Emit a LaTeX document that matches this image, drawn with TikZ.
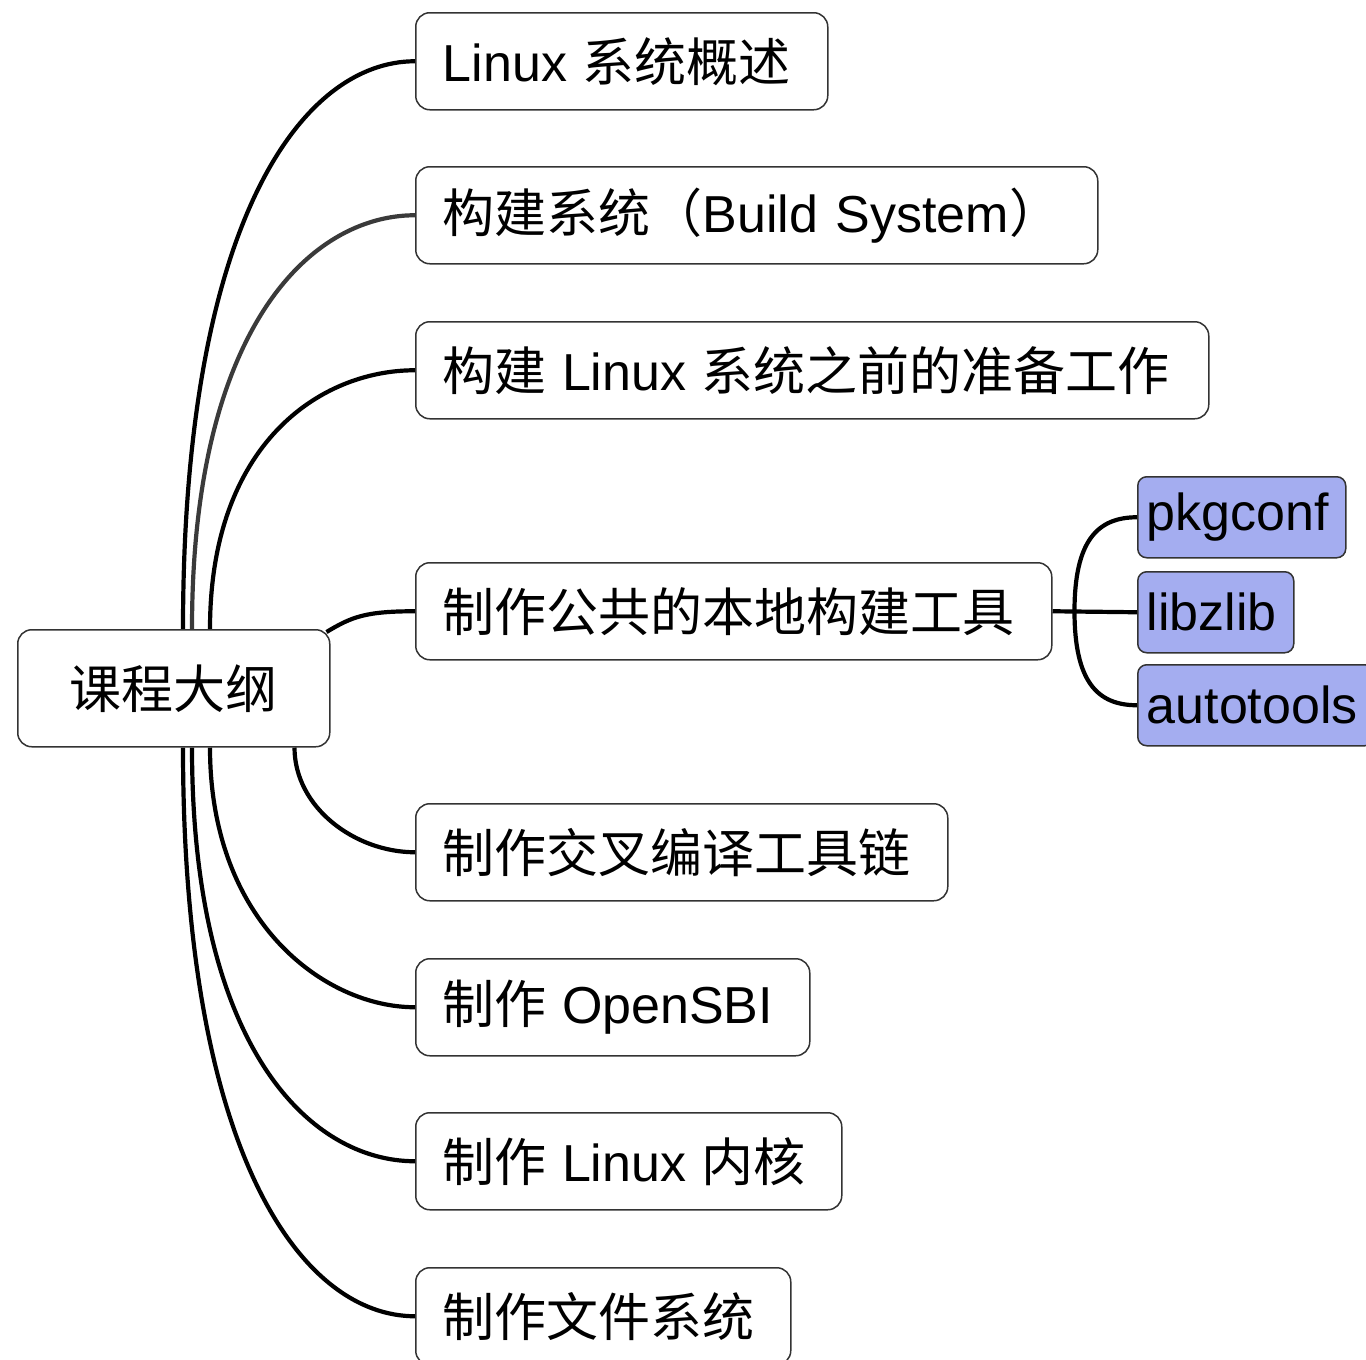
\documentclass[tikz,border=0pt]{standalone}
\usepackage{fontspec}
\setmainfont{Liberation Sans}
\newfontfamily\cjk{Noto Sans CJK SC}
\usetikzlibrary{calc,backgrounds}
\definecolor{boxline}{HTML}{333333}
\definecolor{bluefill}{HTML}{A4ADF0}
\definecolor{graylink}{HTML}{3A3A3A}
\begin{document}
\begin{tikzpicture}[x=1pt,y=-1pt,
  bigfont/.style={font=\fontsize{52}{60}\selectfont},
  topic/.style={bigfont, draw=boxline, line width=1.5pt, rounded corners=14pt, fill=white,
     anchor=north west, minimum height=97pt, inner xsep=27pt, inner ysep=0pt, align=left},
  leaf/.style={bigfont, draw=boxline, line width=1.5pt, rounded corners=9pt, fill=bluefill,
     anchor=north west, minimum height=81pt, inner xsep=9pt, inner ysep=0pt, align=left},
  link/.style={line width=4.2pt, black},
]
\useasboundingbox (0,0) rectangle (1366,1360);

\node[topic, minimum width=312pt, minimum height=117pt, align=center, inner xsep=0pt] (root) at (17,629) {{\cjk 课程大纲}};

\node[topic, text width=358pt] (t1) at (415,12) {\mbox{Linux\hspace{-2pt} {\cjk 系统概述}}};
\node[topic, text width=628pt] (t2) at (415,166) {\mbox{{\cjk 构建系统（}Build System{\cjk ）}}};
\node[topic, text width=739pt] (t3) at (415,321) {\mbox{{\cjk 构建}\hspace{-2pt} Linux\hspace{-2pt} {\cjk 系统之前的准备工作}}};
\node[topic, text width=582pt] (t4) at (415,562) {\mbox{{\cjk 制作公共的本地构建工具}}};
\node[topic, text width=478pt] (t5) at (415,803) {\mbox{{\cjk 制作交叉编译工具链}}};
\node[topic, text width=340pt] (t6) at (415,958) {\mbox{{\cjk 制作}\hspace{-2pt} OpenSBI}};
\node[topic, text width=372pt] (t7) at (415,1112) {\mbox{{\cjk 制作}\hspace{-2pt} Linux\hspace{-2pt} {\cjk 内核}}};
\node[topic, text width=321pt] (t8) at (415,1267) {\mbox{{\cjk 制作文件系统}}};

\node[leaf, text width=190pt] (pkg) at (1137,476) {\mbox{pkgconf}};
\node[leaf, text width=138pt] (zlib) at (1137,571) {\mbox{libzlib}};
\node[leaf, text width=218pt] (auto) at (1137,664) {\mbox{autotools}};

\coordinate (j) at ($(t4.east)+(22,0)$);

\begin{scope}[on background layer]
\draw[link] ($(root.north west)+(166,0)$) .. controls +(0,-410) and +(-112,0) .. (t1.west);
\draw[link, graylink] ($(root.north west)+(175,0)$) .. controls +(0,-300) and +(-105,0) .. (t2.west);
\draw[link] ($(root.north west)+(193,0)$) .. controls +(0,-185) and +(-95,0) .. (t3.west);
\draw[link] ($(root.north east)+(-4,3)$) .. controls +(25,-15) and +(-50,0) .. (t4.west);
\draw[link] ($(root.south east)+(-36,0)$) .. controls +(0,60) and +(-60,0) .. (t5.west);
\draw[link] ($(root.south west)+(193,0)$) .. controls +(0,175) and +(-90,0) .. (t6.west);
\draw[link] ($(root.south west)+(175,0)$) .. controls +(0,300) and +(-105,0) .. (t7.west);
\draw[link] ($(root.south west)+(166,0)$) .. controls +(0,410) and +(-112,0) .. (t8.west);

\draw[link] (t4.east) -- (zlib.west);
\draw[link] (j) .. controls +(0,-70) and +(-40,0) .. (pkg.west);
\draw[link] (j) .. controls +(0,70) and +(-40,0) .. (auto.west);
\end{scope}
\end{tikzpicture}
\end{document}
